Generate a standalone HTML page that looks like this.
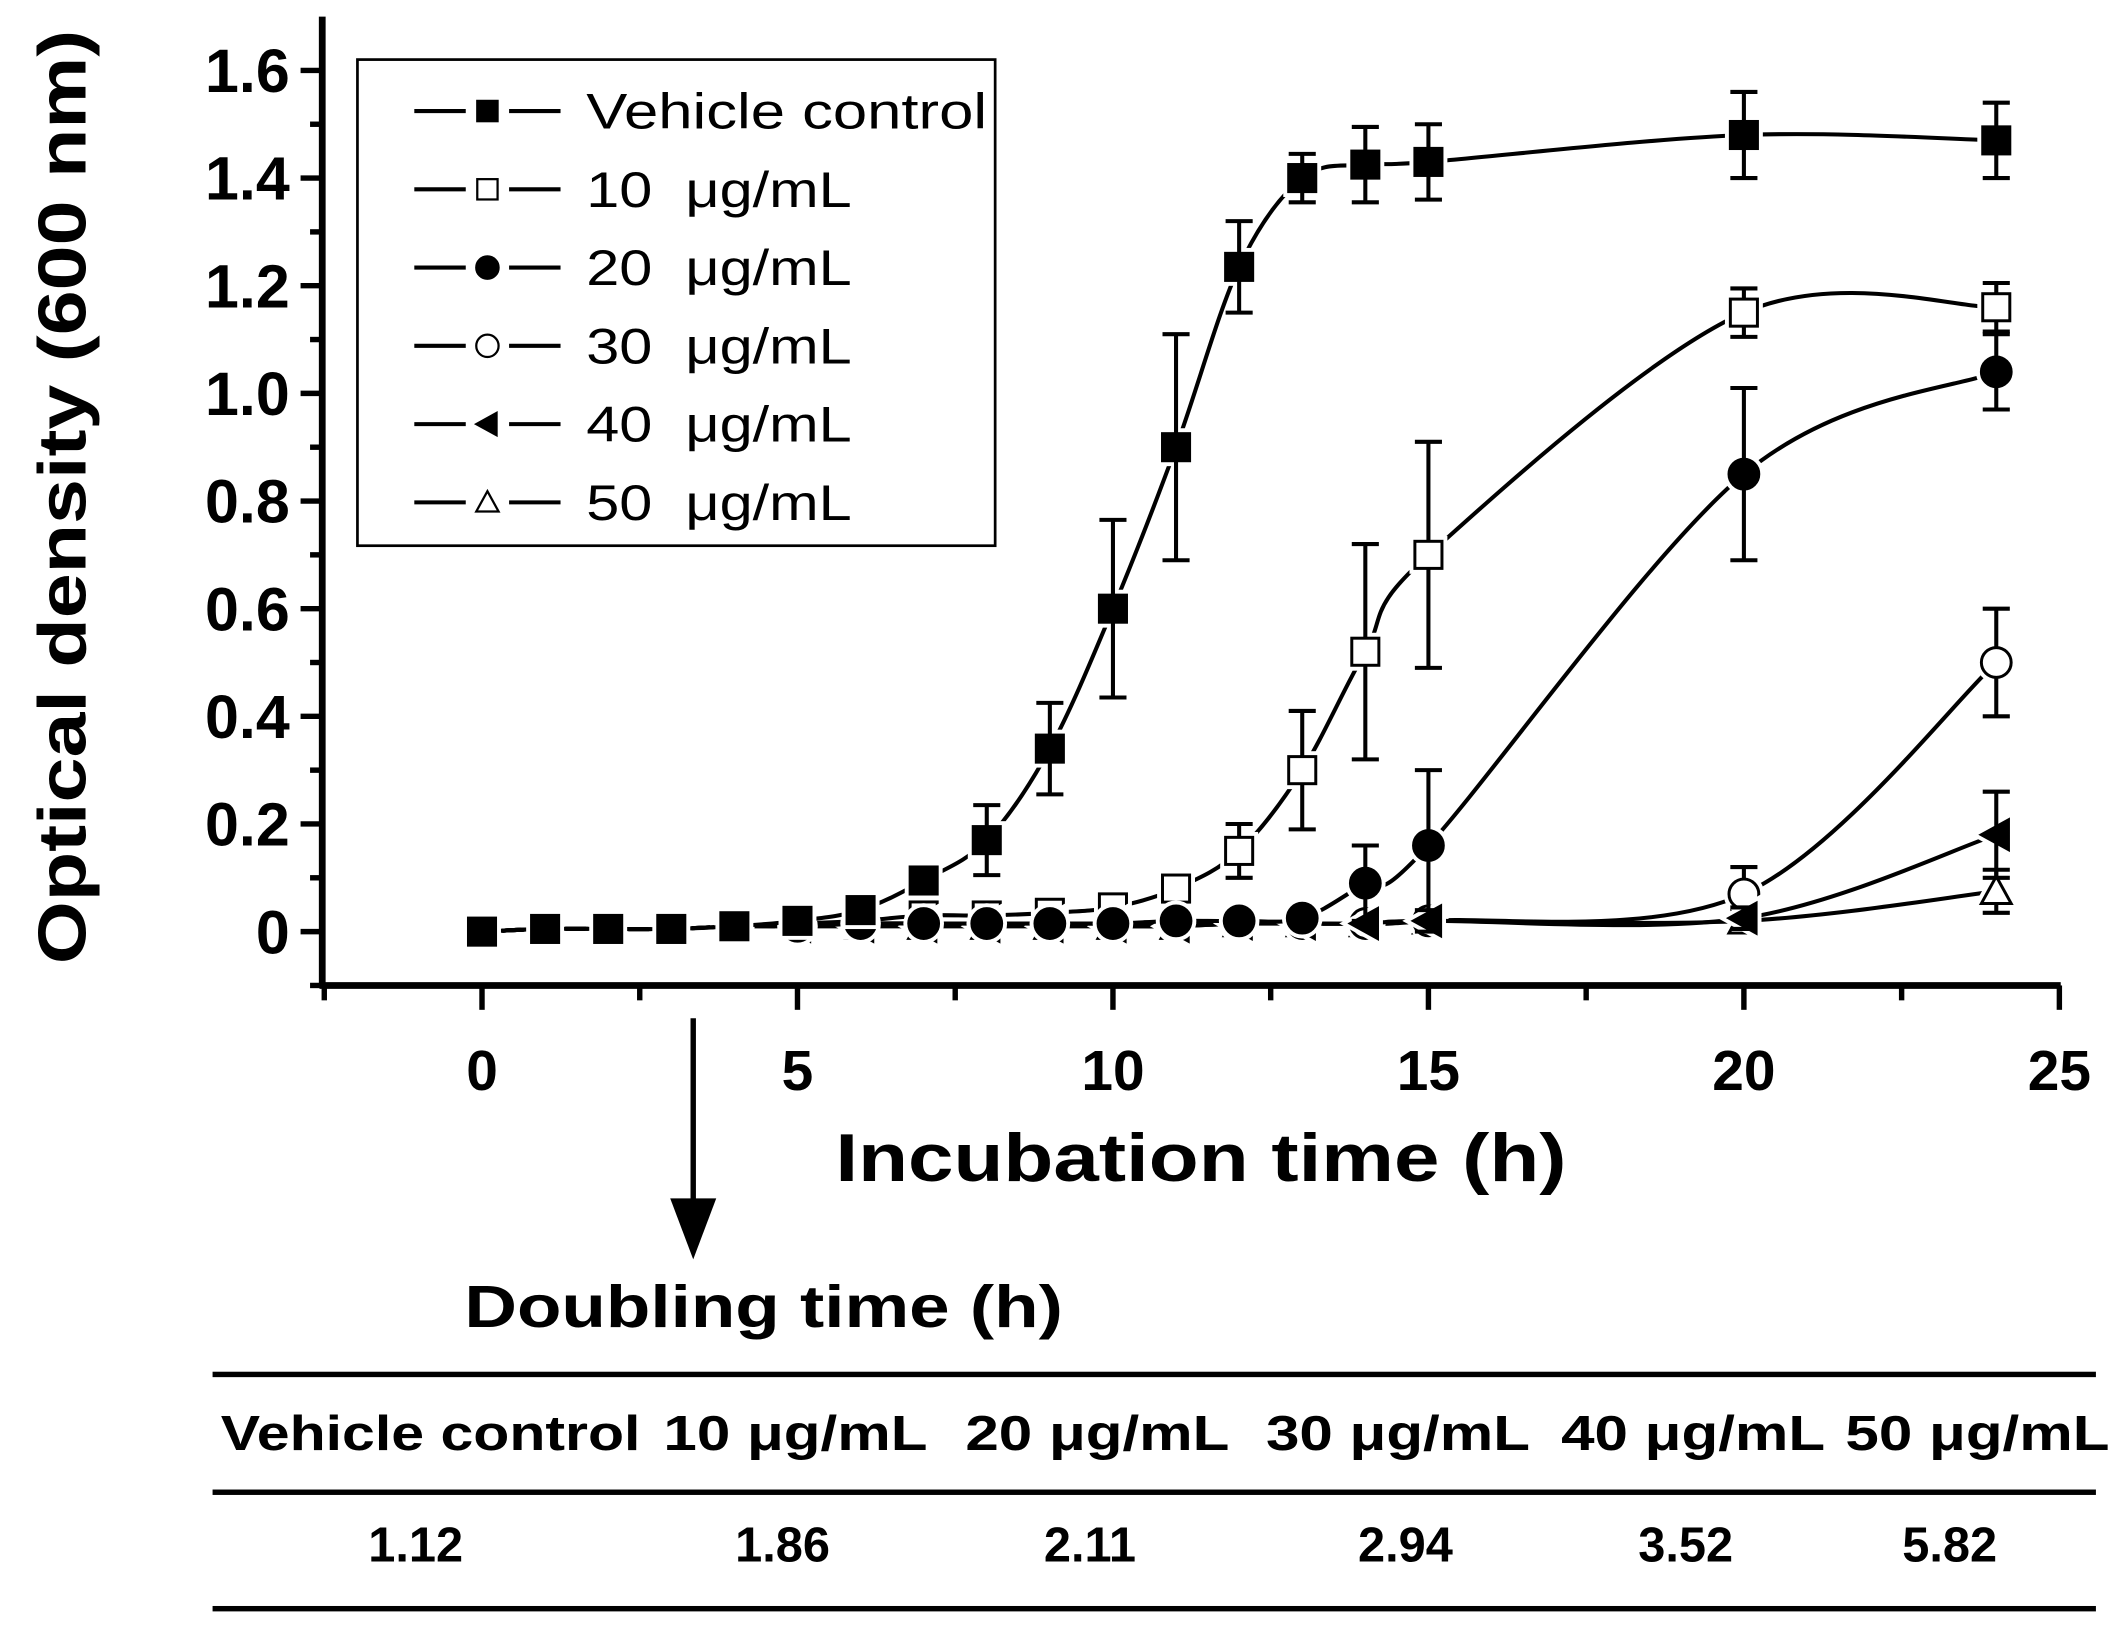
<!DOCTYPE html>
<html><head><meta charset="utf-8"><style>
html,body{margin:0;padding:0;background:#fff;}
svg{display:block;}
text{font-family:"Liberation Sans",sans-serif;fill:#000;}
.b{font-weight:bold;}
</style></head><body>
<svg id="chart" width="2123" height="1629" viewBox="0 0 1568 1203" preserveAspectRatio="none" xmlns="http://www.w3.org/2000/svg">
<g id="axes"></g>
<g id="series"></g>
<g id="legend">
<rect x="264" y="44" width="471" height="359" fill="#fff" stroke="#000" stroke-width="2"/>
</g>
<text class="b" font-size="50" text-anchor="middle" transform="translate(63,367) rotate(-90)" textLength="690" lengthAdjust="spacingAndGlyphs">Optical density (600 nm)</text>
<text class="b" font-size="50" text-anchor="middle" x="887" y="872" textLength="540" lengthAdjust="spacingAndGlyphs">Incubation time (h)</text>
<g>
<line x1="512" y1="752" x2="512" y2="890" stroke="#000" stroke-width="4"/>
<polygon points="495,885 529,885 512,930" fill="#000"/>
</g>
<text class="b" font-size="44" x="343" y="980" textLength="442" lengthAdjust="spacingAndGlyphs">Doubling time (h)</text>
<g id="table">
<rect x="157" y="1013" width="1391" height="4" fill="#000"/>
<rect x="157" y="1100" width="1391" height="4" fill="#000"/>
<rect x="157" y="1186" width="1391" height="4" fill="#000"/>
</g>
</svg>
<script>
const ns="http://www.w3.org/2000/svg";
const times=[0,1,2,3,4,5,6,7,8,9,10,11,12,13,14,15,20,24];
const vehicle=[0,0.005,0.005,0.005,0.01,0.02,0.04,0.095,0.17,0.34,0.6,0.9,1.235,1.4,1.425,1.43,1.48,1.47];
const vehicleErr=[0,0,0,0,0,0,0,0,0.065,0.085,0.165,0.21,0.085,0.045,0.07,0.07,0.08,0.07];
const c10=[0,0.005,0.005,0.005,0.01,0.015,0.02,0.03,0.03,0.035,0.045,0.08,0.15,0.3,0.52,0.7,1.15,1.16];
const c10Err=[0,0,0,0,0,0,0,0,0,0,0,0.02,0.05,0.11,0.2,0.21,0.045,0.045];
const c20=[0,0.005,0.005,0.005,0.01,0.01,0.015,0.015,0.015,0.015,0.015,0.02,0.02,0.025,0.09,0.16,0.85,1.04];
const c20Err=[0,0,0,0,0,0,0,0,0,0,0,0,0,0,0.07,0.14,0.16,0.07];
const c30=[0,0.005,0.005,0.005,0.01,0.01,0.015,0.015,0.015,0.015,0.015,0.015,0.015,0.015,0.015,0.02,0.07,0.5];
const c30Err=[0,0,0,0,0,0,0,0,0,0,0,0,0,0,0,0,0.05,0.1];
const c40=[0,0.005,0.005,0.005,0.01,0.01,0.01,0.01,0.01,0.01,0.01,0.01,0.015,0.015,0.015,0.02,0.025,0.18];
const c40Err=[0,0,0,0,0,0,0,0,0,0,0,0,0,0,0,0.02,0.02,0.08];
const c50=[0,0.005,0.005,0.005,0.01,0.01,0.01,0.01,0.01,0.01,0.01,0.01,0.015,0.015,0.015,0.02,0.02,0.075];
const c50Err=[0,0,0,0,0,0,0,0,0,0,0,0,0,0,0,0.02,0.02,0.04];
const seriesNames=["Vehicle control","10  \u03bcg/mL","20  \u03bcg/mL","30  \u03bcg/mL","40  \u03bcg/mL","50  \u03bcg/mL"];
const xTicks=[0,5,10,15,20,25];
const yTicks=[0,0.2,0.4,0.6,0.8,1.0,1.2,1.4,1.6];
const yTickLabels=["0","0.2","0.4","0.6","0.8","1.0","1.2","1.4","1.6"];
const tableHeaders=["Vehicle control","10 \u03bcg/mL","20 \u03bcg/mL","30 \u03bcg/mL","40 \u03bcg/mL","50 \u03bcg/mL"];
const doublingTimes=["1.12","1.86","2.11","2.94","3.52","5.82"];

const X=t=>356+t*46.6;
const Y=v=>688-v*397.5;
function mk(tag,attrs,parent){const e=document.createElementNS(ns,tag);for(const k in attrs)e.setAttribute(k,attrs[k]);parent.appendChild(e);return e;}

const axes=document.getElementById('axes');
let el=mk('line',{x1:238,y1:Y(1.7),x2:238,y2:Y(-0.1)+2,stroke:'#000','stroke-width':5},axes);


el=mk('line',{x1:236,y1:Y(-0.1),x2:1522,y2:Y(-0.1),stroke:'#000','stroke-width':5},axes);


for(let i=-1;i<=16;i++){const v=i/10;const major=(i%2===0);
  const t=mk('line',{x1:238,x2:major?222:229,y1:Y(v),y2:Y(v),stroke:'#000','stroke-width':4},axes);
  
  }
yTicks.forEach((v,i)=>{const t=mk('text',{x:214,y:Y(v)+16,'font-size':45,'text-anchor':'end','class':'b'},axes);t.textContent=yTickLabels[i];
  
  });
for(let k=-1;k<=10;k++){const tt=k*2.5;const major=(k%2===0);
  const t=mk('line',{x1:X(tt),x2:X(tt),y1:Y(-0.1),y2:Y(-0.1)+(major?18:11),stroke:'#000','stroke-width':4},axes);
  
  }
xTicks.forEach(v=>{const t=mk('text',{x:X(v),y:805,'font-size':42,'text-anchor':'middle','class':'b'},axes);t.textContent=String(v);
  
  });

function spline(pts){let d=`M${pts[0][0]},${pts[0][1]}`;
  for(let i=0;i<pts.length-1;i++){const p0=pts[Math.max(0,i-1)],p1=pts[i],p2=pts[i+1],p3=pts[Math.min(pts.length-1,i+2)];
    const c1=[p1[0]+(p2[0]-p0[0])/6,p1[1]+(p2[1]-p0[1])/6],c2=[p2[0]-(p3[0]-p1[0])/6,p2[1]-(p3[1]-p1[1])/6];
    d+=` C${c1[0]},${c1[1]} ${c2[0]},${c2[1]} ${p2[0]},${p2[1]}`;}return d;}

function marker(g,type,x,y,halo){const s=10;const fill=(type==='fs'||type==='fc'||type==='ft')?'#000':'#fff';
  const sw=halo?8:2.2;const stroke=halo?'#fff':'#000';const f=halo?'#fff':fill;let e;
  if(type==='fs'||type==='os')e=mk('rect',{x:x-s,y:y-s,width:2*s,height:2*s,fill:f,stroke:stroke,'stroke-width':sw},g);
  else if(type==='fc'||type==='oc')e=mk('circle',{cx:x,cy:y,r:s+1,fill:f,stroke:stroke,'stroke-width':sw},g);
  else if(type==='ft')e=mk('polygon',{points:`${x+9},${y-11} ${x+9},${y+11} ${x-11},${y}`,fill:f,stroke:stroke,'stroke-width':sw},g);
  else e=mk('polygon',{points:`${x},${y-11} ${x+11},${y+9} ${x-11},${y+9}`,fill:f,stroke:stroke,'stroke-width':sw},g);
  return e;}

const allSeries=[[c50,c50Err,'ot','series-50-ug-ml'],[c30,c30Err,'oc','series-30-ug-ml'],[c10,c10Err,'os','series-10-ug-ml'],[c40,c40Err,'ft','series-40-ug-ml'],[c20,c20Err,'fc','series-20-ug-ml'],[vehicle,vehicleErr,'fs','series-vehicle-control']];
const sg=document.getElementById('series');
allSeries.forEach(([vals,errs,type,name])=>{
  const g=mk('g',{},sg);
  
  
  const pts=times.map((t,i)=>[X(t),Y(vals[i])]);
  const p=mk('path',{d:spline(pts),fill:'none',stroke:'#000','stroke-width':3},g);
  
  
  times.forEach((t,i)=>{const h=marker(g,type,X(t),Y(vals[i]),true);
    
    });
  times.forEach((t,i)=>{if(errs[i]>0){const x=X(t);
    const eb=mk('path',{d:`M${x},${Y(vals[i]+errs[i])}V${Y(vals[i]-errs[i])}M${x-10},${Y(vals[i]+errs[i])}H${x+10}M${x-10},${Y(vals[i]-errs[i])}H${x+10}`,stroke:'#000','stroke-width':3,fill:'none'},g);
    
    }
    const m=marker(g,type,X(t),Y(vals[i]),false);
    
    });
});

const lg=document.getElementById('legend');
const types=['fs','os','fc','oc','ft','ot'];
seriesNames.forEach((n,i)=>{const y=82+i*57.8;
  const g=mk('g',{},lg);
  
  
  mk('line',{x1:306,x2:344,y1:y,y2:y,stroke:'#000','stroke-width':3},g);
  mk('line',{x1:376,x2:414,y1:y,y2:y,stroke:'#000','stroke-width':3},g);
  marker(g,types[i],360,y,false).setAttribute('transform',`translate(360,${y}) scale(0.75) translate(-360,${-y})`);
  const t=mk('text',{x:433,y:y+13,'font-size':37,'xml:space':'preserve'},g);t.textContent=n;
  t.style.whiteSpace='pre';
  t.setAttribute('textLength',i===0?'296':'196');
  t.setAttribute('lengthAdjust','spacingAndGlyphs');
});

const tb=document.getElementById('table');
const hx=[163,490,713,935,1153,1363],hw=[310,195,195,195,195,195];
tableHeaders.forEach((h,i)=>{const t=mk('text',{x:hx[i],y:1071,'font-size':36,'class':'b',textLength:hw[i],lengthAdjust:'spacingAndGlyphs'},tb);t.textContent=h;
  
  });
const vx=[307,578,805,1038,1245,1440];
doublingTimes.forEach((v,i)=>{const t=mk('text',{x:vx[i],y:1153,'font-size':36,'class':'b','text-anchor':'middle'},tb);t.textContent=v;
  
  });
</script>
</body></html>
